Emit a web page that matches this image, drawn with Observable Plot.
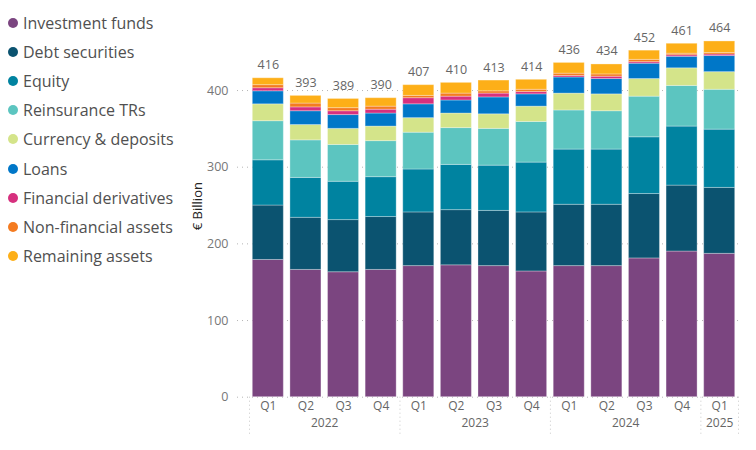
<!DOCTYPE html>
<html>
<head>
<meta charset="utf-8">
<script src="https://cdn.jsdelivr.net/npm/d3@7"></script>
<script src="https://cdn.jsdelivr.net/npm/@observablehq/plot@0.6"></script>
<style>
  html, body { margin: 0; padding: 0; background: #fff; }
  #wrap { position: relative; width: 756px; height: 450px; font-family: "Open Sans", sans-serif; }
  #legend { position: absolute; left: 8px; top: 8px; }
  .item { height: 29.2px; display: flex; align-items: center; font-size: 16px; color: #505050; white-space: nowrap; }
  .dot { width: 10px; height: 10px; border-radius: 50%; margin-right: 5px; flex: none; }
  #chart { position: absolute; left: 0; top: 0; }
</style>
</head>
<body>
<div id="wrap">
  <div id="chart"></div>
  <div id="legend"></div>
</div>
<script>
const quarters = ["Q1","Q2","Q3","Q4","Q1","Q2","Q3","Q4","Q1","Q2","Q3","Q4","Q1"];
const years = ["2022","2022","2022","2022","2023","2023","2023","2023","2024","2024","2024","2024","2025"];
const totals = [416,393,389,390,407,410,413,414,436,434,452,461,464];

const seriesNames = ["Investment funds","Debt securities","Equity","Reinsurance TRs","Currency & deposits","Loans","Financial derivatives","Non-financial assets","Remaining assets"];
const seriesColors = ["#7B4580","#0B5370","#0083A0","#5CC5C0","#D4E48A","#0077C8","#D6307E","#F47B20","#FDAF18"];

const investmentFunds   = [179,166,163,166,171,172,171,164,171,171,181,190,187];
const debtSecurities    = [71,68,68,69,70,72,72,77,80,80,84,86,86];
const equity            = [59,52,50,52,56,59,59,65,72,72,74,77,76];
const reinsuranceTRs    = [51,49,48,47,48,48,48,53,51,50,53,53,52];
const currencyDeposits  = [22,20,21,19,19,19,19,20,22,22,23,23,23];
const loans             = [17,18,18,17,18,17,22,16,21,20,20,15,21];
const financialDerivs   = [4,5,5,5,8,5,5,3,2,3,2,2,2];
const nonFinancial      = [4,5,4,4,3,4,3,3,3,3,3,2,2];
const remaining         = [9,10,12,11,14,14,14,13,14,13,12,13,15];

const yTicks = [0,100,200,300,400];

const seriesValues = [investmentFunds, debtSecurities, equity, reinsuranceTRs, currencyDeposits, loans, financialDerivs, nonFinancial, remaining];
const data = [];
seriesNames.forEach((name, s) => {
  seriesValues[s].forEach((v, i) => data.push({i, series: name, value: v}));
});
const idx = quarters.map((_, i) => i);
const yearNames = Array.from(new Set(years));
const yearCenters = yearNames.map(y => {
  const ii = idx.filter(i => years[i] === y);
  return {year: y, x: d3.mean(ii) + 0.5};
});
const yearStarts = yearNames.map(y => idx.find(i => years[i] === y)).concat([quarters.length]);

const plot = Plot.plot({
  width: 756,
  height: 450,
  marginLeft: 249,
  marginRight: 18,
  marginTop: 28.7,
  marginBottom: 53.3,
  style: {fontFamily: "Open Sans, sans-serif", background: "transparent", overflow: "visible"},
  x: {domain: [0, quarters.length], axis: null},
  y: {domain: [0, 480], axis: null},
  color: {domain: seriesNames, range: seriesColors},
  marks: [
    Plot.ruleY(yTicks, {stroke: "#b5b5b5", strokeDasharray: "1,4", strokeWidth: 1, insetLeft: -12, insetRight: -4}),
    Plot.text(yTicks, {y: d => d, frameAnchor: "left", dx: -21, textAnchor: "end", text: d => String(d), fill: "#777", fontSize: 12.5}),
    Plot.rectY(data, {x: "i", interval: 1, y: "value", fill: "series", insetLeft: 3.3, insetRight: 3.3, stroke: "white", strokeOpacity: 0.3, strokeWidth: 1}),
    Plot.text(totals, {x: (d, i) => i + 0.5, y: d => d, text: d => String(d), dy: -13, fill: "#666", fontSize: 12.5}),
    Plot.text(idx, {x: i => i + 0.5, text: i => quarters[i], frameAnchor: "bottom", dy: 12.5, fill: "#666", fontSize: 12}),
    Plot.text(yearCenters, {x: "x", text: "year", frameAnchor: "bottom", dy: 29.5, fill: "#666", fontSize: 12}),
    Plot.axisX(yearStarts, {tickSize: 40, tickFormat: () => "", stroke: "#c8c8c8", strokeDasharray: "1,3", strokeWidth: 1}),
    Plot.text(["€ Billion"], {frameAnchor: "left", dx: -52, dy: 17, rotate: -90, text: d => d, fill: "#252423", fontSize: 13})
  ]
});
document.getElementById("chart").appendChild(plot);

const legend = document.getElementById("legend");
seriesNames.forEach((name, s) => {
  const row = document.createElement("div");
  row.className = "item";
  const dot = document.createElement("span");
  dot.className = "dot";
  dot.style.background = seriesColors[s];
  const label = document.createElement("span");
  label.textContent = name;
  row.appendChild(dot);
  row.appendChild(label);
  legend.appendChild(row);
});
</script>
</body>
</html>
